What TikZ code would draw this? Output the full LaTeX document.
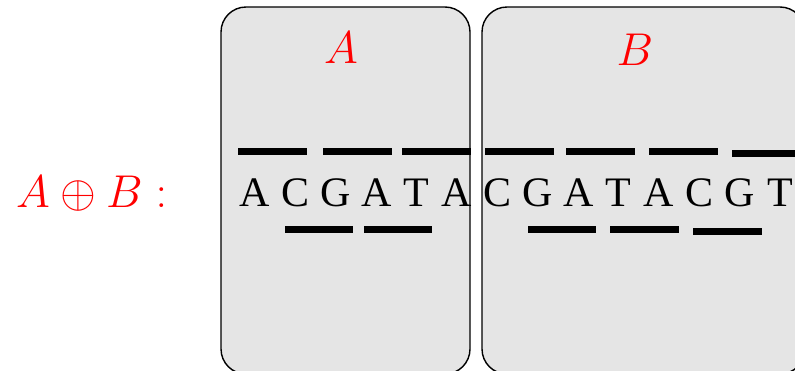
\RequirePackage{fix-cm}
\documentclass[tikz,border=0pt]{standalone}
\usepackage{fontspec}
\newfontfamily\seqfont{Liberation Serif}
\begin{document}
\begin{tikzpicture}[x=1pt,y=-1pt,
  panel/.style={draw=black,line width=1.4pt,fill=black!10,rounded corners=25pt},
  lbl/.style={text=red,inner sep=0pt,anchor=base,font=\fontsize{46}{50}\selectfont},
  base/.style={inner sep=0pt,anchor=base,font=\seqfont\fontsize{42}{46}\selectfont},
  seg/.style={fill=black}]
\useasboundingbox (0,0) rectangle (795,370);

% the two panels
\draw[panel] (221,7) rectangle (470,374);
\draw[panel] (482,7) rectangle (805,374);

% panel titles and the left-hand label
\node[lbl] (ta) at (341,63) {$A$};
\node[lbl] (tb) at (635,65) {$B$};
\node[lbl,anchor=base west] (sum) at (16,207) {$A \oplus B :$};

% the sequence
\foreach \ch [count=\i from 0] in {A,C,G,A,T,A,C,G,A,T,A,C,G,T}
  \node[base] (s\i) at (255+40.4*\i,206) {\ch};

% upper row of segments
\foreach \x in {238,323,402,485,566,649}
  \fill[seg] (\x,148.3) rectangle ++(68.5,7);
\fill[seg] (731.7,150.2) rectangle ++(68.5,7);

% lower row of segments
\foreach \x in {284.7,363.7,527.7,610.3}
  \fill[seg] (\x,225.8) rectangle ++(68.5,7);
\fill[seg] (693.3,227.6) rectangle ++(68.5,7);
\end{tikzpicture}
\end{document}
